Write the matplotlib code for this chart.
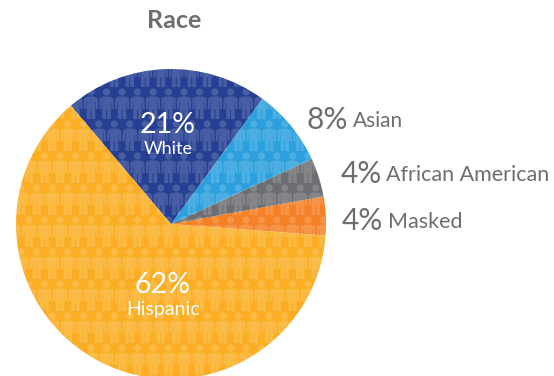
import numpy as np
import matplotlib
matplotlib.use("Agg")
import matplotlib.pyplot as plt
from matplotlib.path import Path
from matplotlib.patches import PathPatch, Circle
from matplotlib.transforms import Affine2D

plt.rcParams["font.family"] = ["Lato", "DejaVu Sans"]

# counter-clockwise from the masked/hispanic edge
labels = ["Masked", "African American", "Asian", "White", "Hispanic"]
values = [4, 4, 8, 21, 62]
colors = ["#F58025", "#6D6E71", "#2BA0DC", "#263F92", "#FBAE24"]

GREY = "#6D6E71"
W, H = 554, 376
cx, cy, r = 171, H - 224, 155

fig = plt.figure(figsize=(W / 100, H / 100), dpi=100)
ax = fig.add_axes([0, 0, 1, 1])
ax.pie(values, colors=colors, startangle=-4.3, center=(cx, cy), radius=r,
       wedgeprops={"linewidth": 0})
ax.set_xlim(0, W)
ax.set_ylim(0, H)
ax.set_aspect("equal")
ax.axis("off")

# little person, origin at centre of the head, y up
body = np.array([
    [-2.5, -4.5], [2.5, -4.5], [6.5, -6], [7, -7.5], [7, -17], [4.8, -17],
    [4.8, -9.5], [4.2, -9.5], [4.2, -27], [0.5, -27], [0.5, -17.5],
    [-0.5, -17.5], [-0.5, -27], [-4.2, -27], [-4.2, -9.5], [-4.8, -9.5],
    [-4.8, -17], [-7, -17], [-7, -7.5], [-6.5, -6], [-2.5, -4.5],
])
codes = [Path.MOVETO] + [Path.LINETO] * (len(body) - 2) + [Path.CLOSEPOLY]
person = Path.make_compound_path(Path.circle((0, 0), 3.6), Path(body, codes))

people = []
for k, ytop in enumerate(np.arange(28, 376, 32)):
    x0 = 91 - (7.75 if (k % 2 == 1) else 0) - 15.5 * 6
    for x in np.arange(x0, 340, 15.5):
        people.append(person.transformed(Affine2D().translate(x, H - ytop)))
patch = PathPatch(Path.make_compound_path(*people), facecolor="white",
                  edgecolor="none", alpha=0.16, zorder=3)
ax.add_patch(patch)
patch.set_clip_path(Circle((cx, cy), r, transform=ax.transData))

ax.text(174, H - 21, "Race", fontsize=18, fontweight="bold", color=GREY,
        ha="center", va="center")

ax.text(168, H - 125, "21%", fontsize=20.5, color="white", ha="center", va="center", zorder=5)
ax.text(168, H - 149, "White", fontsize=13, color="white", ha="center", va="center", zorder=5)
ax.text(163, H - 285, "62%", fontsize=20.5, color="white", ha="center", va="center", zorder=5)
ax.text(163, H - 310, "Hispanic", fontsize=14, color="white", ha="center", va="center", zorder=5)

ax.text(306, H - 120, "8%", fontsize=21.5, color=GREY, ha="left", va="center")
ax.text(353, H - 121, "Asian", fontsize=15, color=GREY, ha="left", va="center")
ax.text(341, H - 174, "4%", fontsize=21.5, color=GREY, ha="left", va="center")
ax.text(386, H - 175, "African American", fontsize=15.5, color=GREY, ha="left", va="center")
ax.text(342, H - 221, "4%", fontsize=21.5, color=GREY, ha="left", va="center")
ax.text(388, H - 222, "Masked", fontsize=15.5, color=GREY, ha="left", va="center")

fig.savefig("out.png", dpi=100)
